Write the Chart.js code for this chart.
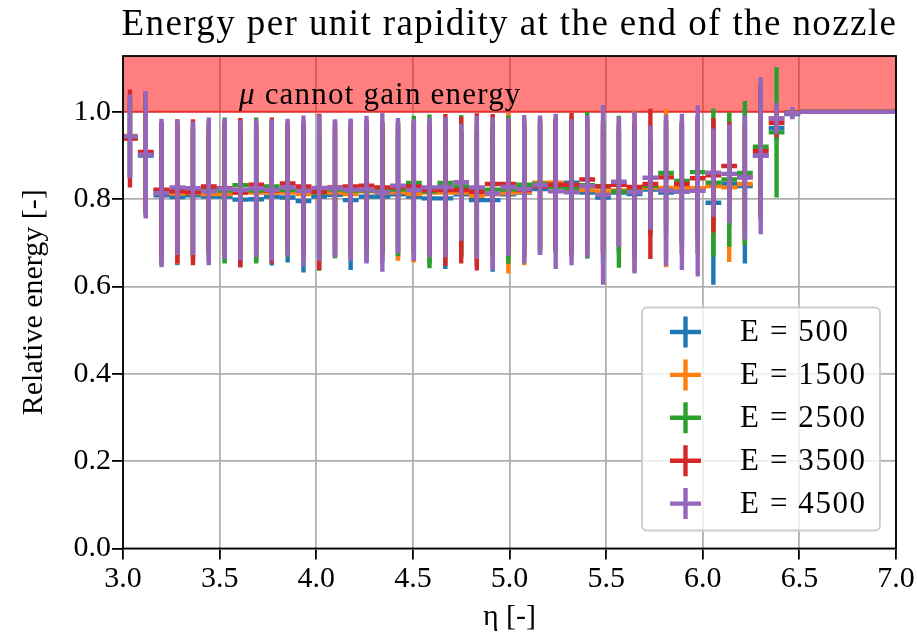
<!DOCTYPE html>
<html>
<head>
<meta charset="utf-8">
<title>Energy per unit rapidity</title>
<script src="https://cdn.jsdelivr.net/npm/chart.js@4.4.1/dist/chart.umd.min.js"></script>
<style>
  html, body { margin: 0; padding: 0; background: #fff; }
</style>
</head>
<body>
<canvas id="myChart" width="917" height="639"></canvas>
<script>
(function () {
  'use strict'

// centro dos bins em eta (os 7 ultimos ficam todos em 1.0)
var eta = [
  3.036, 3.118, 3.199, 3.281, 3.362, 3.444, 3.526, 3.607, 3.689, 3.770,
  3.852, 3.934, 4.015, 4.097, 4.178, 4.260, 4.342, 4.423, 4.505, 4.586,
  4.668, 4.750, 4.831, 4.913, 4.994, 5.076, 5.158, 5.239, 5.321, 5.402,
  5.484, 5.566, 5.647, 5.729, 5.810, 5.892, 5.974, 6.055, 6.137, 6.218,
  6.300, 6.382, 6.463, 6.545, 6.626, 6.708, 6.790, 6.871, 6.953, 7.034
]
var meiaLargura = 0.0408   // xerr = metade do bin

var energias = ['E = 500', 'E = 1500', 'E = 2500', 'E = 3500', 'E = 4500']
var cores = ['#1f77b4', '#ff7f0e', '#2ca02c', '#d62728', '#9467bd']

var media500 = [
  0.940, 0.900, 0.809, 0.805, 0.809, 0.806, 0.806, 0.799, 0.800, 0.806,
  0.804, 0.796, 0.806, 0.810, 0.798, 0.806, 0.806, 0.811, 0.806, 0.802,
  0.802, 0.811, 0.798, 0.798, 0.811, 0.815, 0.823, 0.830, 0.838, 0.815,
  0.804, 0.815, 0.812, 0.822, 0.815, 0.825, 0.825, 0.792, 0.835, 0.830,
  0.900, 0.963, 0.995, 1, 1, 1, 1, 1, 1, 1
]
var erro500 = [
  0.090, 0.140, 0.160, 0.156, 0.150, 0.150, 0.150, 0.155, 0.145, 0.158,
  0.149, 0.164, 0.140, 0.140, 0.160, 0.150, 0.150, 0.150, 0.150, 0.150,
  0.162, 0.140, 0.150, 0.164, 0.150, 0.150, 0.150, 0.150, 0.150, 0.150,
  0.150, 0.140, 0.150, 0.090, 0.150, 0.150, 0.150, 0.188, 0.100, 0.177,
  0.150, 0.030, 0.010, 0, 0, 0, 0, 0, 0, 0
]

var media1500 = [
  0.945, 0.905, 0.814, 0.813, 0.814, 0.812, 0.812, 0.815, 0.815, 0.815,
  0.815, 0.812, 0.815, 0.815, 0.812, 0.818, 0.815, 0.816, 0.812, 0.815,
  0.815, 0.815, 0.808, 0.811, 0.814, 0.817, 0.838, 0.838, 0.825, 0.821,
  0.818, 0.820, 0.820, 0.826, 0.826, 0.825, 0.825, 0.830, 0.827, 0.835,
  0.915, 0.985, 0.998, 1, 1, 1, 1, 1, 1, 1
]
var erro1500 = [
  0.090, 0.140, 0.160, 0.162, 0.150, 0.150, 0.150, 0.150, 0.150, 0.150,
  0.146, 0.150, 0.150, 0.150, 0.150, 0.150, 0.150, 0.157, 0.157, 0.150,
  0.150, 0.140, 0.150, 0.150, 0.184, 0.168, 0.150, 0.150, 0.150, 0.150,
  0.150, 0.140, 0.186, 0.110, 0.182, 0.150, 0.150, 0.120, 0.171, 0.140,
  0.150, 0.030, 0.010, 0, 0, 0, 0, 0, 0, 0
]

var media2500 = [
  0.940, 0.905, 0.820, 0.820, 0.820, 0.822, 0.820, 0.832, 0.820, 0.829,
  0.821, 0.822, 0.815, 0.822, 0.820, 0.820, 0.825, 0.822, 0.837, 0.818,
  0.837, 0.829, 0.821, 0.822, 0.822, 0.833, 0.835, 0.828, 0.825, 0.832,
  0.830, 0.817, 0.818, 0.830, 0.860, 0.842, 0.862, 0.838, 0.845, 0.860,
  0.920, 0.953, 0.998, 1, 1, 1, 1, 1, 1, 1
]
var erro2500 = [
  0.090, 0.140, 0.155, 0.150, 0.150, 0.150, 0.167, 0.150, 0.167, 0.150,
  0.152, 0.150, 0.179, 0.157, 0.150, 0.150, 0.150, 0.152, 0.154, 0.176,
  0.150, 0.164, 0.150, 0.150, 0.170, 0.150, 0.150, 0.150, 0.150, 0.168,
  0.150, 0.174, 0.150, 0.110, 0.120, 0.140, 0.130, 0.170, 0.154, 0.165,
  0.150, 0.149, 0.010, 0, 0, 0, 0, 0, 0, 0
]

var media3500 = [
  0.939, 0.908, 0.822, 0.818, 0.816, 0.829, 0.825, 0.815, 0.833, 0.820,
  0.836, 0.829, 0.817, 0.827, 0.829, 0.831, 0.827, 0.828, 0.829, 0.821,
  0.821, 0.821, 0.817, 0.835, 0.835, 0.821, 0.829, 0.833, 0.833, 0.845,
  0.829, 0.833, 0.828, 0.835, 0.850, 0.835, 0.848, 0.855, 0.876, 0.850,
  0.910, 0.975, 0.998, 1, 1, 1, 1, 1, 1, 1
]
var erro3500 = [
  0.112, 0.140, 0.155, 0.165, 0.167, 0.150, 0.150, 0.171, 0.140, 0.167,
  0.140, 0.150, 0.179, 0.150, 0.150, 0.150, 0.150, 0.150, 0.150, 0.150,
  0.174, 0.168, 0.180, 0.160, 0.150, 0.150, 0.150, 0.150, 0.165, 0.140,
  0.150, 0.140, 0.150, 0.172, 0.130, 0.140, 0.140, 0.131, 0.100, 0.120,
  0.150, 0.033, 0.010, 0, 0, 0, 0, 0, 0, 0
]

var media4500 = [
  0.944, 0.902, 0.814, 0.827, 0.825, 0.818, 0.824, 0.821, 0.825, 0.821,
  0.827, 0.819, 0.826, 0.825, 0.822, 0.822, 0.816, 0.831, 0.821, 0.827,
  0.828, 0.839, 0.827, 0.813, 0.828, 0.823, 0.832, 0.818, 0.816, 0.830,
  0.810, 0.840, 0.816, 0.849, 0.820, 0.817, 0.819, 0.861, 0.858, 0.850,
  0.900, 0.985, 0.997, 1, 1, 1, 1, 1, 1, 1
]
var erro4500 = [
  0.096, 0.146, 0.170, 0.155, 0.153, 0.169, 0.161, 0.160, 0.158, 0.162,
  0.157, 0.173, 0.167, 0.158, 0.163, 0.169, 0.182, 0.155, 0.162, 0.160,
  0.161, 0.134, 0.164, 0.175, 0.158, 0.170, 0.160, 0.178, 0.167, 0.163,
  0.206, 0.149, 0.186, 0.119, 0.173, 0.179, 0.196, 0.101, 0.113, 0.142,
  0.180, 0.036, 0.014, 0, 0, 0, 0, 0, 0, 0
]

var ticksX = [3.0, 3.5, 4.0, 4.5, 5.0, 5.5, 6.0, 6.5, 7.0]
var ticksY = [0.0, 0.2, 0.4, 0.6, 0.8, 1.0]
var limiteEnergia = 1.0   // acima disto o muon nao ganha energia
var yMax = 1.128

var medias = [media500, media1500, media2500, media3500, media4500]
var erros = [erro500, erro1500, erro2500, erro3500, erro4500]

var serif = '"Liberation Serif", "Times New Roman", serif'
var espessura = 4.4

// barras de erro em x e y como segmentos soltos (null quebra a linha)
function segmentos(media, erro) {
  var pts = []
  for (var i = 0; i < eta.length; i++) {
    pts.push({ x: eta[i] - meiaLargura, y: media[i] })
    pts.push({ x: eta[i] + meiaLargura, y: media[i] })
    pts.push({ x: eta[i], y: null })
    if (erro[i] > 0) {
      pts.push({ x: eta[i], y: media[i] - erro[i] })
      pts.push({ x: eta[i], y: media[i] + erro[i] })
      pts.push({ x: eta[i], y: null })
    }
  }
  return pts
}

var datasets = energias.map(function (nome, k) {
  return {
    label: nome,
    data: segmentos(medias[k], erros[k]),
    showLine: true,
    borderColor: cores[k],
    backgroundColor: cores[k],
    borderWidth: espessura,
    borderCapStyle: 'butt',
    pointRadius: 0,
    pointHoverRadius: 0,
    spanGaps: false,
    clip: 0,
    order: 10 - k   // E = 4500 por cima
  }
})

// faixa vermelha de 1.0 ate o topo
datasets.push({
  label: 'faixa',
  data: [{ x: 3, y: limiteEnergia }, { x: 7, y: limiteEnergia }],
  showLine: true,
  borderColor: 'rgba(255, 0, 0, 0.5)',
  backgroundColor: 'rgba(255, 0, 0, 0.5)',
  borderWidth: 2.2,
  pointRadius: 0,
  fill: 'end',
  clip: 0,
  order: 20
})

var moldura = {
  id: 'moldura',
  afterDatasetsDraw: function (chart) {
    var a = chart.chartArea
    var ctx = chart.ctx
    ctx.save()
    ctx.strokeStyle = '#000'
    ctx.lineWidth = 1.8
    ctx.strokeRect(a.left, a.top, a.right - a.left, a.bottom - a.top)
    ctx.restore()
  }
}

var textos = {
  id: 'textos',
  afterDatasetsDraw: function (chart) {
    var ctx = chart.ctx
    var a = chart.chartArea
    var sx = chart.scales.x
    var sy = chart.scales.y
    ctx.save()
    ctx.fillStyle = '#000'

    // titulo centrado na area do grafico
    ctx.font = '37px ' + serif
    ctx.letterSpacing = '1.4px'
    ctx.textAlign = 'center'
    ctx.textBaseline = 'alphabetic'
    ctx.fillText('Energy per unit rapidity at the end of the nozzle', (a.left + a.right) / 2, 35)

    // rotulo da faixa
    var x0 = sx.getPixelForValue(3.6)
    var y0 = sy.getPixelForValue(1.018)
    ctx.textAlign = 'left'
    ctx.letterSpacing = '1.2px'
    ctx.font = 'italic 31px ' + serif
    ctx.fillText('μ', x0, y0)
    var w = ctx.measureText('μ').width
    ctx.font = '31px ' + serif
    ctx.fillText(' cannot gain energy', x0 + w, y0)
    ctx.restore()
  }
}

var legenda = {
  id: 'legenda',
  afterDraw: function (chart) {
    var ctx = chart.ctx
    var a = chart.chartArea
    var dir = a.right - 16, baixo = a.bottom - 18
    var larg = 238, alt = 223
    var esq = dir - larg, topo = baixo - alt
    ctx.save()
    ctx.beginPath()
    ctx.roundRect(esq, topo, larg, alt, 5)
    ctx.fillStyle = 'rgba(255, 255, 255, 0.8)'
    ctx.fill()
    ctx.strokeStyle = '#cccccc'
    ctx.lineWidth = 1.8
    ctx.stroke()

    ctx.font = '31px ' + serif
    ctx.letterSpacing = '1.6px'
    ctx.textAlign = 'left'
    ctx.textBaseline = 'middle'
    for (var i = 0; i < energias.length; i++) {
      var cy = topo + 24.5 + i * 42.9
      var cx = esq + 43.5
      ctx.strokeStyle = cores[i]
      ctx.lineWidth = espessura
      ctx.beginPath()
      ctx.moveTo(cx - 15.5, cy); ctx.lineTo(cx + 15.5, cy)
      ctx.moveTo(cx, cy - 15.5); ctx.lineTo(cx, cy + 15.5)
      ctx.stroke()
      ctx.fillStyle = '#000'
      ctx.fillText(energias[i], esq + 98, cy + 1)
    }
    ctx.restore()
  }
}

const ctx = document.getElementById('myChart').getContext('2d');

new Chart(ctx, {
  type: 'scatter',
  data: { datasets: datasets },
  plugins: [moldura, textos, legenda],
  options: {
    responsive: false,
    animation: false,
    devicePixelRatio: 1,
    layout: { padding: { top: 56, right: 21, left: 0, bottom: 0 } },
    plugins: {
      legend: { display: false },
      tooltip: { enabled: false },
      title: { display: false }
    },
    scales: {
      x: {
        type: 'linear',
        min: 3,
        max: 7,
        afterBuildTicks: function (s) { s.ticks = ticksX.map(function (v) { return { value: v } }) },
        afterFit: function (s) { s.height = 90.5 },
        border: { display: false },
        grid: { color: '#b0b0b0', lineWidth: 1.8, tickColor: '#000', tickWidth: 1.8, tickLength: 11 },
        ticks: {
          color: '#000', padding: 2, maxRotation: 0, autoSkip: false,
          font: { family: serif, size: 30 },
          callback: function (v) { return v.toFixed(1) }
        },
        title: {
          display: true, text: 'η [-]', color: '#000',
          font: { family: serif, size: 30 },
          padding: { top: 0, bottom: 4 }
        }
      },
      y: {
        type: 'linear',
        min: 0,
        max: yMax,
        afterBuildTicks: function (s) { s.ticks = ticksY.map(function (v) { return { value: v } }) },
        afterFit: function (s) { s.width = 123 },
        border: { display: false },
        grid: { color: '#b0b0b0', lineWidth: 1.8, tickColor: '#000', tickWidth: 1.8, tickLength: 11 },
        ticks: {
          color: '#000', padding: 1,
          font: { family: serif, size: 30 },
          callback: function (v) { return v.toFixed(1) }
        },
        title: {
          display: true, text: 'Relative energy [-]', color: '#000',
          font: { family: serif, size: 30 },
          padding: { top: 16, bottom: 0 }
        }
      }
    }
  }
});

})()
</script>
</body>
</html>
